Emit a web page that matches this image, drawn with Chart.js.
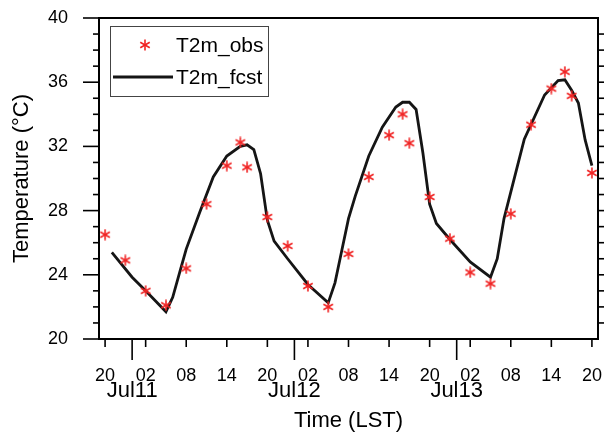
<!DOCTYPE html>
<html><head><meta charset="utf-8">
<script src="https://cdn.jsdelivr.net/npm/chart.js@4.4.1/dist/chart.umd.min.js"></script>
<style>html,body{margin:0;padding:0;background:#fff}#wrap{width:609px;height:435px}</style>
</head><body><div id="wrap"><canvas id="c" width="609" height="435"></canvas></div>
<script>
// hours relative to Jul11 00:00 LST
const obsHours = [-4,-1,2,5,8,11,14,16,17,20,23,26,29,32,35,38,40,41,44,47,50,53,56,59,62,64,65,68];
const obsTemps = [26.5,24.9,23.0,22.1,24.4,28.4,30.8,32.25,30.7,27.6,25.8,23.3,22.0,25.3,30.1,32.7,34.0,32.2,28.85,26.25,24.15,23.45,27.8,33.35,35.6,36.65,35.15,30.35];
const fcstHours = [-3,0,2,5,6,7,8,10,12,14,16,17,18,19,20,21,23,26,29,30,31,32,33,35,37,39,40,41,42,43,44,45,47,50,53,54,55,57,58,61,63,64,65,66,67,68];
const fcstTemps = [25.4,23.85,23.0,21.7,22.6,24.1,25.6,27.9,30.1,31.4,32.0,32.1,31.8,30.3,27.4,26.1,25.0,23.4,22.25,23.5,25.5,27.5,28.9,31.4,33.2,34.45,34.75,34.75,34.3,31.6,28.4,27.2,26.2,24.8,23.85,25.0,27.5,30.8,32.45,35.2,36.1,36.15,35.5,34.7,32.4,30.8];
const hourTicks = [-4,2,8,14,20,26,32,38,44,50,56,62,68];
const hourTickLabels = ['20','02','08','14','20','02','08','14','20','02','08','14','20'];
const dayTicks = [0,24,48];
const dayLabels = ['Jul11','Jul12','Jul13'];
const yTickValues = [20,24,28,32,36,40];
const X_MIN = -4.9, X_MAX = 68.9, Y_MIN = 20, Y_MAX = 40;

const FAMILY = "'Liberation Sans', Arial, Helvetica, sans-serif";
const RED = 'rgb(240,35,35)';

function makeStar(size, color, lw) {
  const c = document.createElement('canvas');
  c.width = c.height = size;
  const g = c.getContext('2d');
  g.strokeStyle = color; g.lineWidth = lw;
  const r = size / 2 - 0.5, cx = size / 2, cy = size / 2;
  for (const ang of [90, 30, -30]) {
    const rad = ang * Math.PI / 180;
    const dx = Math.cos(rad) * r, dy = Math.sin(rad) * r;
    g.beginPath(); g.moveTo(cx - dx, cy - dy); g.lineTo(cx + dx, cy + dy); g.stroke();
  }
  return c;
}
const star = makeStar(12, RED, 1.6);

const framePlugin = {
  id: 'frame',
  afterDraw(chart) {
    const {ctx, chartArea: a, scales: {x, y}} = chart;
    ctx.save();
    ctx.strokeStyle = '#000';
    ctx.lineWidth = 1.6;
    for (let v = Y_MIN; v <= Y_MAX; v++) {
      const py = y.getPixelForValue(v);
      const major = v % 4 === 0;
      ctx.beginPath(); ctx.moveTo(a.left, py); ctx.lineTo(a.left - (major ? 16 : 6), py); ctx.stroke();
      if (v > Y_MIN && v < Y_MAX) {
        ctx.beginPath(); ctx.moveTo(a.right, py); ctx.lineTo(a.right + 6, py); ctx.stroke();
      }
    }
    for (const h of hourTicks) {
      const px = x.getPixelForValue(h);
      ctx.beginPath(); ctx.moveTo(px, a.bottom); ctx.lineTo(px, a.bottom + 8); ctx.stroke();
    }
    for (const h of dayTicks) {
      const px = x.getPixelForValue(h);
      ctx.beginPath(); ctx.moveTo(px, a.bottom); ctx.lineTo(px, a.bottom + 21); ctx.stroke();
    }
    ctx.lineWidth = 2;
    ctx.strokeRect(a.left, a.top, a.right - a.left, a.bottom - a.top);
    ctx.fillStyle = '#000';
    ctx.font = '22px ' + FAMILY;
    ctx.textAlign = 'center';
    ctx.textBaseline = 'alphabetic';
    dayTicks.forEach((h, i) => ctx.fillText(dayLabels[i], x.getPixelForValue(h), 397));
    const ds = chart.data.datasets;
    ctx.lineWidth = 1;
    ctx.strokeStyle = '#444';
    ctx.strokeRect(110.5, 26.5, 158, 70);
    ctx.drawImage(star, 145 - star.width / 2, 45 - star.height / 2);
    ctx.strokeStyle = ds[1].borderColor;
    ctx.lineWidth = ds[1].borderWidth;
    ctx.beginPath(); ctx.moveTo(113, 77); ctx.lineTo(173, 77); ctx.stroke();
    ctx.font = '21px ' + FAMILY;
    ctx.textAlign = 'left';
    ctx.fillStyle = '#000';
    ctx.fillText(ds[0].label, 176, 52);
    ctx.fillText(ds[1].label, 176, 83.5);
    ctx.restore();
  }
};

Chart.defaults.color = '#000';
new Chart(document.getElementById('c'), {
  type: 'scatter',
  data: {
    datasets: [
      {
        label: 'T2m_obs',
        data: obsHours.map((h, i) => ({x: h, y: obsTemps[i]})),
        showLine: false,
        pointStyle: star,
        pointRadius: 6,
        borderColor: RED,
        backgroundColor: RED,
        order: 0
      },
      {
        label: 'T2m_fcst',
        data: fcstHours.map((h, i) => ({x: h, y: fcstTemps[i]})),
        showLine: true,
        borderColor: '#151515',
        borderWidth: 2.8,
        pointRadius: 0,
        tension: 0,
        order: 1
      }
    ]
  },
  options: {
    responsive: false,
    animation: false,
    devicePixelRatio: 1,
    layout: {padding: {left: 0, right: 11, top: 18, bottom: 0}},
    plugins: {legend: {display: false}, tooltip: {enabled: false}},
    scales: {
      x: {
        type: 'linear', min: X_MIN, max: X_MAX,
        grid: {display: false, drawTicks: false},
        border: {display: false},
        afterBuildTicks: s => { s.ticks = hourTicks.map(v => ({value: v})); },
        afterFit: s => { s.height = 96; s.paddingLeft = 0; s.paddingRight = 0; },
        ticks: {
          autoSkip: false, maxRotation: 0, minRotation: 0, padding: 26,
          font: {size: 18, family: FAMILY},
          callback: v => hourTickLabels[hourTicks.indexOf(v)]
        },
        title: {display: true, text: 'Time (LST)', font: {size: 22, family: FAMILY}, padding: {top: 0, bottom: 1}}
      },
      y: {
        min: Y_MIN, max: Y_MAX,
        grid: {display: false, drawTicks: false},
        border: {display: false},
        afterBuildTicks: s => { s.ticks = yTickValues.map(v => ({value: v})); },
        afterFit: s => { s.width = 99; s.paddingTop = 0; s.paddingBottom = 0; },
        ticks: {padding: 31, font: {size: 18, family: FAMILY}},
        title: {display: true, text: 'Temperature (\u00B0C)', font: {size: 22, family: FAMILY}, padding: {top: 9, bottom: 0}}
      }
    }
  },
  plugins: [framePlugin]
});
</script>
</body></html>
